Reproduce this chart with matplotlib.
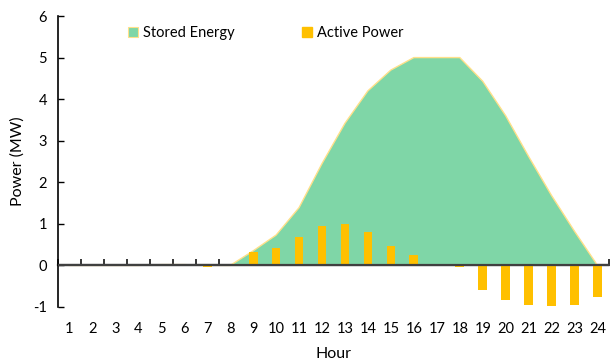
import matplotlib
matplotlib.use("Agg")
import matplotlib.pyplot as plt
from matplotlib.patches import Patch
import numpy as np

hours = list(range(1, 25))
hour_labels = [str(h) for h in hours]

stored_energy = [0, 0, 0, 0, 0.02, 0.02, 0, 0, 0.35, 0.73, 1.39, 2.45, 3.42, 4.2, 4.7,
                 5.0, 5.0, 5.0, 4.43, 3.6, 2.62, 1.68, 0.82, 0]
active_power = [0, 0, 0, 0, 0, 0, -0.03, 0, 0.32, 0.41, 0.68, 0.95, 0.99, 0.81, 0.46,
                0.26, 0, -0.04, -0.6, -0.84, -0.94, -0.98, -0.94, -0.76]

plt.rcParams['font.family'] = ['Lato', 'DejaVu Sans']

fig = plt.figure(figsize=(6.1, 3.6), dpi=100)
ax = fig.add_axes([58 / 610, 1 - 307 / 360, 551 / 610, 291 / 360])

green = '#7FD6A7'
edge = '#FFE08A'
gold = '#FFC000'
axis_col = '#404040'

ax.fill_between(hours, 0, stored_energy, facecolor=green, edgecolor='none', zorder=1)
ax.plot(hours, stored_energy, color=edge, lw=1.0, zorder=2)
ax.bar(hours, active_power, width=0.38, color=gold, zorder=3)

ax.set_xlim(0.5, 24.5)
ax.set_ylim(-1, 6)
ax.set_yticks(range(-1, 7))
ax.set_yticklabels([str(v) for v in range(-1, 7)], fontsize=10.5)
ax.tick_params(axis='y', direction='in', length=4, width=1, color='black', pad=8)

ax.set_xticks(hours)
ax.set_xticklabels(hour_labels, fontsize=10.5)
ax.tick_params(axis='x', length=0, pad=11)

for s in ['top', 'right', 'bottom']:
    ax.spines[s].set_visible(False)
ax.spines['left'].set_color('black')
ax.spines['left'].set_linewidth(1.2)

# horizontal axis line at zero with boundary ticks
ax.axhline(0, color=axis_col, lw=1.6, zorder=4)
zero_ax = ax.secondary_xaxis(1 / 7)
zero_ax.set_xticks(np.arange(0.5, 25.0, 1.0))
zero_ax.set_xticklabels([])
zero_ax.tick_params(direction='in', length=4, width=1.1, color='black')
zero_ax.spines['bottom'].set_color(axis_col)
zero_ax.spines['bottom'].set_linewidth(1.6)

ax.set_ylabel('Power (MW)', fontsize=11.5, labelpad=6)
ax.set_xlabel('Hour', fontsize=11.5, labelpad=8)

handles = [Patch(facecolor=green, edgecolor=edge, linewidth=0.8),
           Patch(facecolor=gold, edgecolor=gold)]
fig.legend(handles, ['Stored Energy', 'Active Power'], loc='center',
           bbox_to_anchor=(266 / 610, 1 - 33 / 360), ncol=2, frameon=False,
           fontsize=10.5, handlelength=0.7, handleheight=0.7, handletextpad=0.35,
           columnspacing=4.6)

fig.savefig('out.png', dpi=100)
